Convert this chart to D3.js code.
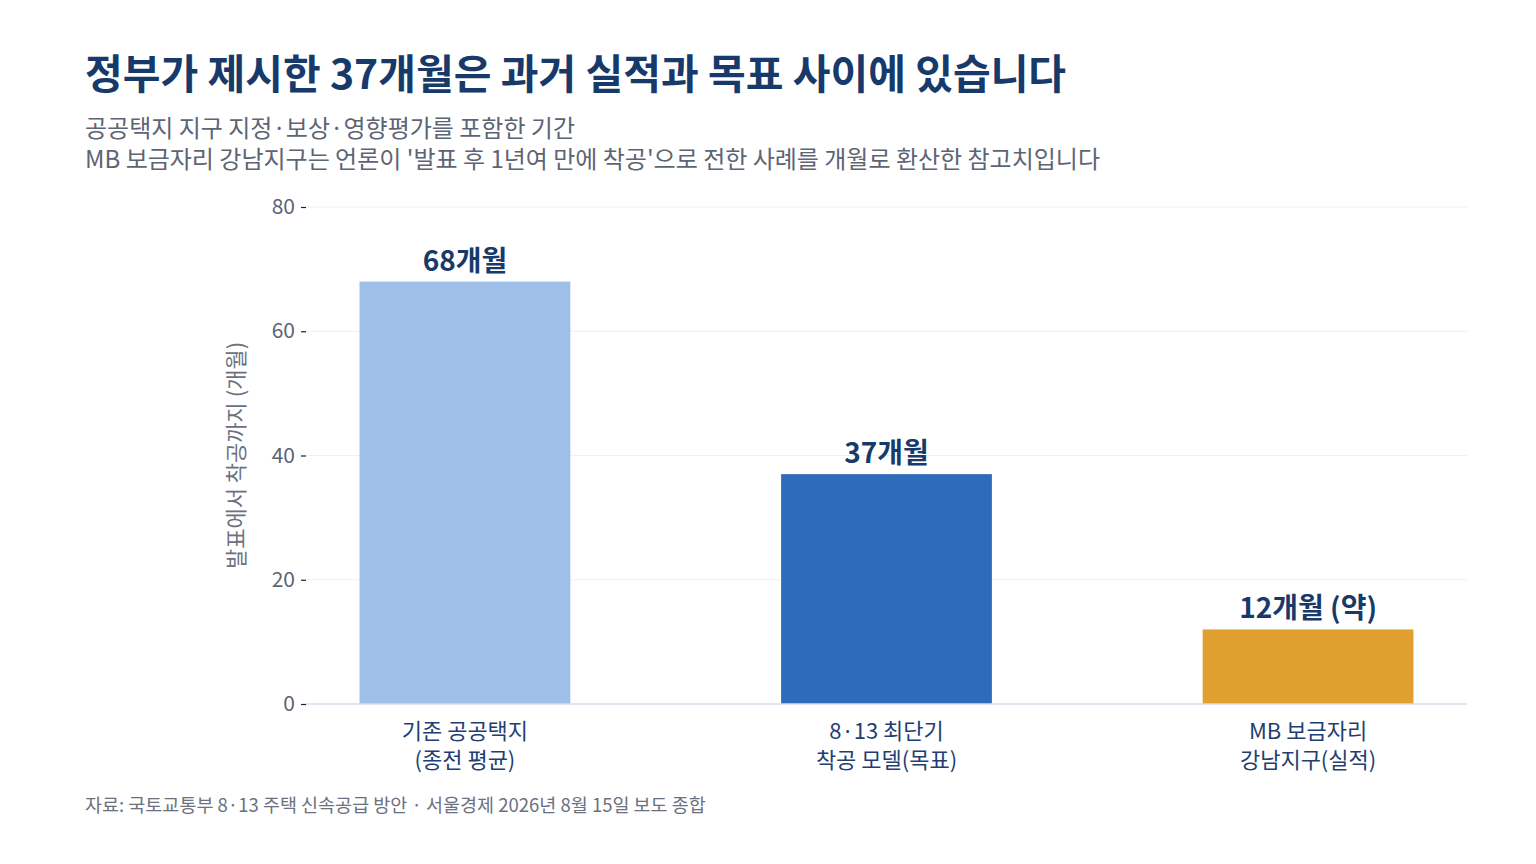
<!DOCTYPE html>
<html>
<head>
<meta charset="utf-8">
<script src="https://cdn.jsdelivr.net/npm/d3@7"></script>
<style>
  body { margin: 0; background: #fff; }
  svg { display: block; font-family: "Noto Sans CJK KR", "Noto Sans", sans-serif; }
</style>
</head>
<body>
<div id="chart"></div>
<script>
// chart data
var categories = ["기존 공공택지|(종전 평균)", "8·13 최단기|착공 모델(목표)", "MB 보금자리|강남지구(실적)"];
var months = [68, 37, 12];
var valueLabels = ["68개월", "37개월", "12개월 (약)"];
var barColors = ["#9dbfe8", "#2e6bba", "#dfa030"];
var yTicks = [0, 20, 40, 60, 80];

var W = 1536, H = 864;
var margin = { top: 207, right: 69, bottom: 160, left: 306 };
var width = W - margin.left - margin.right;
var height = H - margin.top - margin.bottom;

var svg = d3.select("#chart").append("svg")
  .attr("width", W)
  .attr("height", H);

// title and subtitle
svg.append("text")
  .attr("x", 85).attr("y", 89)
  .attr("font-size", 41).attr("font-weight", 700)
  .attr("fill", "#173a6a")
  .text("정부가 제시한 37개월은 과거 실적과 목표 사이에 있습니다");

svg.append("text")
  .attr("x", 85).attr("y", 137)
  .attr("font-size", 24).attr("fill", "#5d6474")
  .text("공공택지 지구 지정·보상·영향평가를 포함한 기간");

svg.append("text")
  .attr("x", 85).attr("y", 168)
  .attr("font-size", 24).attr("fill", "#5d6474")
  .text("MB 보금자리 강남지구는 언론이 '발표 후 1년여 만에 착공'으로 전한 사례를 개월로 환산한 참고치입니다");

var g = svg.append("g")
  .attr("transform", "translate(" + margin.left + "," + margin.top + ")");

var x = d3.scaleBand()
  .domain(categories)
  .range([0, width])
  .paddingInner(0.5)
  .paddingOuter(0.127);

var y = d3.scaleLinear()
  .domain([0, 80])
  .range([height, 0]);

// gridlines
g.selectAll(".grid")
  .data(yTicks.filter(function(d) { return d > 0; }))
  .enter().append("line")
  .attr("x1", 0).attr("x2", width)
  .attr("y1", function(d) { return y(d); })
  .attr("y2", function(d) { return y(d); })
  .attr("stroke", "#edf0f5").attr("stroke-width", 1.2);

// y axis
var yAxis = g.append("g")
  .call(d3.axisLeft(y).tickValues(yTicks).tickSize(5).tickPadding(6));
yAxis.select(".domain").remove();
yAxis.selectAll(".tick line").attr("stroke", "#222").attr("stroke-width", 1.2);
yAxis.selectAll(".tick text")
  .attr("font-size", 21).attr("fill", "#5d6474")
  .attr("font-family", "\"Noto Sans CJK KR\", sans-serif");

// y axis title
svg.append("text")
  .attr("transform", "translate(236," + (margin.top + height / 2) + ") rotate(-90)")
  .attr("text-anchor", "middle")
  .attr("dy", "0.35em")
  .attr("font-size", 22).attr("fill", "#6b7180")
  .text("발표에서 착공까지 (개월)");

// bars
g.selectAll(".bar")
  .data(months)
  .enter().append("rect")
  .attr("class", "bar")
  .attr("x", function(d, i) { return x(categories[i]); })
  .attr("y", function(d) { return y(d); })
  .attr("width", x.bandwidth())
  .attr("height", function(d) { return height - y(d); })
  .attr("fill", function(d, i) { return barColors[i]; });

// baseline
g.append("line")
  .attr("x1", 0).attr("x2", width)
  .attr("y1", height).attr("y2", height)
  .attr("stroke", "#d6dcea").attr("stroke-width", 1.5);

// value labels
g.selectAll(".label")
  .data(months)
  .enter().append("text")
  .attr("class", "label")
  .attr("x", function(d, i) { return x(categories[i]) + x.bandwidth() / 2; })
  .attr("y", function(d) { return y(d) - 11; })
  .attr("text-anchor", "middle")
  .attr("font-size", 28).attr("font-weight", 700)
  .attr("fill", "#173a6a")
  .text(function(d, i) { return valueLabels[i]; });

// category labels
var cat = g.selectAll(".cat")
  .data(categories)
  .enter().append("text")
  .attr("class", "cat")
  .attr("text-anchor", "middle")
  .attr("font-size", 22).attr("fill", "#1f3f72");
cat.each(function(d) {
  var t = d3.select(this);
  var cx = x(d) + x.bandwidth() / 2;
  d.split("|").forEach(function(line, i) {
    t.append("tspan")
      .attr("x", cx)
      .attr("y", height + 35 + i * 29)
      .text(line);
  });
});

// source note
svg.append("text")
  .attr("x", 85).attr("y", 812)
  .attr("font-size", 18.5).attr("fill", "#6b7180")
  .text("자료: 국토교통부 8·13 주택 신속공급 방안 · 서울경제 2026년 8월 15일 보도 종합");
</script>
</body>
</html>
